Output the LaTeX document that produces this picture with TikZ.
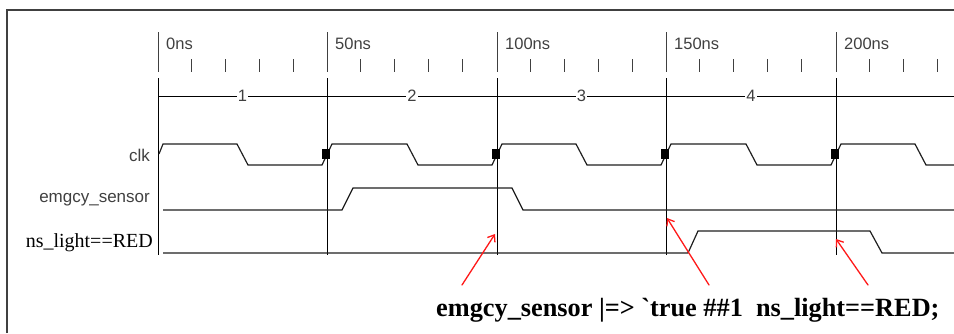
\documentclass[tikz,border=0pt]{standalone}
\usepackage{fontspec}
\setmainfont{Liberation Serif}[Ligatures=TeXOff]
\setsansfont{Liberation Sans}
\usetikzlibrary{positioning}
\usetikzlibrary{arrows.meta}
\definecolor{wgray}{rgb}{0.12, 0.12, 0.12}
\definecolor{tgray}{rgb}{0.25, 0.25, 0.25}
\definecolor{mred}{rgb}{1, 0.1, 0.1}
\tikzset{
  wave/.style = {line width = 1.2pt, wgray, line join = miter},
  gridln/.style = {line width = 0.9pt, black},
  tickln/.style = {line width = 0.9pt, tgray},
  timelbl/.style = {anchor = west, inner sep = 0, text = tgray, font = \sffamily\fontsize{16.5}{18}\selectfont},
  cyclbl/.style = {fill = white, inner sep = 1pt, text = tgray, font = \sffamily\fontsize{16.5}{18}\selectfont},
  siglbl/.style = {anchor = east, inner sep = 0, text = tgray, font = \sffamily\fontsize{17}{19}\selectfont},
  edgemark/.style = {fill = black, inner sep = 0, minimum width = 8, minimum height = 10},
  redarrow/.style = {mred, line width = 1.3pt, line cap = round, -{Straight Barb[length = 6pt, width = 9pt]}},
}

\begin{document}
\begin{tikzpicture}[x = 1pt, y = -1pt]
    \useasboundingbox (0, 0) rectangle (954, 333);
    % frame
    \draw [line width = 1.5pt, tgray] (7, 333) -- (7, 10) -- (954, 10);

    % time scale
    \foreach \t/\x in {0/158, 50/327, 100/497, 150/666, 200/836} {
        \draw [tickln] (\x, 32) -- (\x, 72);
        \node [timelbl] (t\t) at (\x + 8, 44) {\t ns};
        \draw [gridln] (\x, 78) -- (\x, 255);
    }
    \foreach \x in {158, 327, 497, 666} {
        \foreach \k in {1, 2, 3, 4}
            \draw [tickln] (\x + 33.9 * \k, 59) -- (\x + 33.9 * \k, 72);
    }
    \foreach \k in {1, 2, 3}
        \draw [tickln] (836 + 33.9 * \k, 59) -- (836 + 33.9 * \k, 72);

    % cycle numbers
    \draw [gridln] (158, 96) -- (954, 96);
    \foreach \n/\x in {1/242.5, 2/412, 3/581.5, 4/751}
        \node [cyclbl] (cyc\n) at (\x, 96) {\n};

    % signal names
    \node [siglbl] (clk) at (150, 155) {clk};
    \node [siglbl] (sensor) at (150, 200) {emgcy\_sensor};
    \node [anchor = east, inner sep = 0, font = \fontsize{20}{22}\selectfont] (light) at (153, 243) {ns\_light==RED};

    % waveforms
    \draw [wave] (159, 154) -- (163, 144) -- (237, 144) -- (248, 165) -- (322, 165) -- (332, 144)
        -- (407, 144) -- (418, 165) -- (492, 165) -- (502, 144) -- (576, 144) -- (587, 165)
        -- (661, 165) -- (671, 144) -- (746, 144) -- (757, 165) -- (831, 165) -- (841, 144)
        -- (915, 144) -- (926, 165) -- (954, 165);
    \draw [wave] (163, 210) -- (342, 210) -- (353, 188) -- (512, 188) -- (523, 210) -- (954, 210);
    \draw [wave] (163, 253) -- (688, 253) -- (698, 231) -- (870, 231) -- (882, 253) -- (954, 253);

    % rising edge markers
    \foreach \x in {327, 497, 666, 836}
        \node [edgemark] at (\x - 1, 154) {};

    % assertion
    \node [anchor = base west, inner sep = 0, font = \bfseries\fontsize{26.3}{28}\selectfont] (prop) at (436, 316)
        {emgcy\_sensor |=> \symbol{96}true \#\#1\ \ ns\_light==RED;};

    \coordinate (tailA) at (462, 285);
    \coordinate (tipA) at (495, 234);
    \coordinate (tailB) at (709, 285);
    \coordinate (tipB) at (667, 218);
    \coordinate (tailC) at (868, 285);
    \coordinate (tipC) at (836, 239);
    \draw [redarrow] (tailA) -- (tipA);
    \draw [redarrow] (tailB) -- (tipB);
    \draw [redarrow] (tailC) -- (tipC);
  \end{tikzpicture}
\end{document}
